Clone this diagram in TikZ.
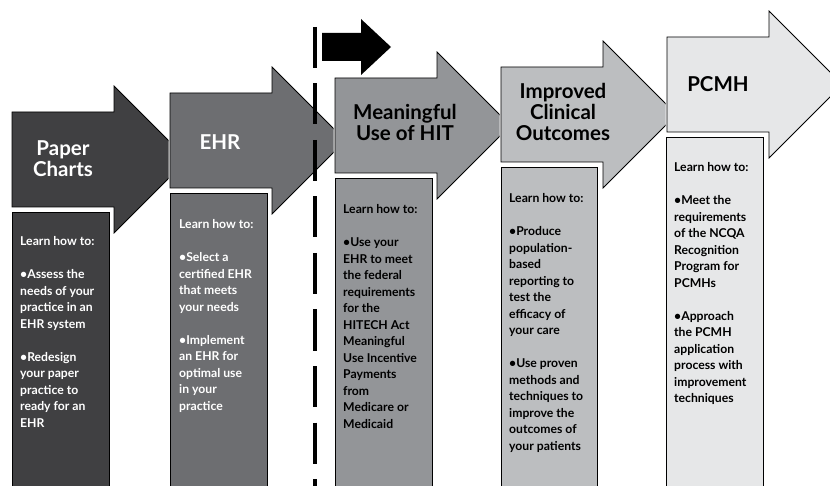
\documentclass[tikz,border=0pt]{standalone}
\usepackage{fontspec}
\setmainfont{Lato}
\usetikzlibrary{positioning}
\definecolor{stageone}{RGB}{64,64,66}
\definecolor{stagetwo}{RGB}{109,110,113}
\definecolor{stagethree}{RGB}{147,149,152}
\definecolor{stagefour}{RGB}{188,190,192}
\definecolor{stagefive}{RGB}{230,231,232}

% one step of the road map: body 102 wide, 95 high, head 26 over and under
\newcommand{\stagearrow}[3]{%
  \path[stage, fill=#3] (#1,#2) -- ++(102,0) -- ++(0,-26) -- ++(73.5,73.5)
    -- ++(-73.5,73.5) -- ++(0,-26) -- ++(-102,0) -- cycle;}

\begin{document}
\begin{tikzpicture}[x=1pt, y=-1pt,
  stage/.style={draw=black, line width=0.8pt, line join=miter,
                preaction={draw=white, line width=3pt}},
  stagelabel/.style={font=\fontsize{20.5}{21}\selectfont\bfseries,
                     align=center, inner sep=0pt, anchor=north,
                     execute at begin node=\strut},
  infotext/.style={font=\fontsize{12.2}{16.5}\selectfont\bfseries,
                   align=left, inner sep=0pt, anchor=north west,
                   execute at begin node=\strut},
  milestone/.style={line width=4.7pt, dash pattern=on 41pt off 15.5pt}
]
  \fill[white] (0,0) rectangle (830,486);
  \useasboundingbox (0,0) rectangle (830,486);

  % Paper charts
  \stagearrow{12}{112}{stageone}
  \path[stage, fill=stageone] (12,212) rectangle (109,495);
  \node[stagelabel, text=white] (paper) at (63,140.3) {Paper\\Charts};
  \node[infotext, text=white] (papertext) at (20,236.5)
    {Learn how to:\\[16.5pt]
     •Assess the\\needs of your\\practice in an\\EHR system\\[16.5pt]
     •Redesign\\your paper\\practice to\\ready for an\\EHR};

  % EHR
  \stagearrow{170}{93}{stagetwo}
  \path[stage, fill=stagetwo] (170,193) rectangle (267,495);
  \node[stagelabel, text=white] (ehr) at (220,134.3) {EHR};
  \node[infotext, text=white] (ehrtext) at (179,219.5)
    {Learn how to:\\[16.5pt]
     •Select a\\certified EHR\\that meets\\your needs\\[16.5pt]
     •Implement\\an EHR for\\optimal use\\in your\\practice};

  % dividing line and the small arrow over it
  \draw[milestone] (315,27) -- (315,495);
  \path[fill=black] (322,33) -- (361,33) -- (361,19) -- (391,47)
    -- (361,75) -- (361,61) -- (322,61) -- cycle;

  % Meaningful use
  \stagearrow{335}{78}{stagethree}
  \path[stage, fill=stagethree] (335,178) rectangle (432,495);
  \node[stagelabel] (mu) at (405,104.3) {Meaningful\\Use of HIT};
  \node[infotext] (mutext) at (343,204.5)
    {Learn how to:\\[16.5pt]
     •Use your\\EHR to meet\\the federal\\requirements\\for the\\HITECH Act\\
     Meaningful\\Use Incentive\\Payments\\from\\Medicare or\\Medicaid};

  % Improved clinical outcomes
  \stagearrow{501}{67}{stagefour}
  \path[stage, fill=stagefour] (501,167) rectangle (597,495);
  \node[stagelabel] (outcomes) at (563,83.3) {Improved\\Clinical\\Outcomes};
  \node[infotext] (outcomestext) at (509,193.5)
    {Learn how to:\\[16.5pt]
     •Produce\\population-\\based\\reporting to\\test the\\efficacy of\\
     your care\\[16.5pt]
     •Use proven\\methods and\\techniques to\\improve the\\outcomes of\\
     your patients};

  % PCMH
  \stagearrow{667}{37}{stagefive}
  \path[stage, fill=stagefive] (666,137) rectangle (763,495);
  \node[stagelabel] (pcmh) at (718,76.3) {PCMH};
  \node[infotext] (pcmhtext) at (674,162.5)
    {Learn how to:\\[16.5pt]
     •Meet the\\requirements\\of the NCQA\\Recognition\\Program for\\PCMHs\\[16.5pt]
     •Approach\\the PCMH\\application\\process with\\improvement\\techniques};
\end{tikzpicture}
\end{document}
